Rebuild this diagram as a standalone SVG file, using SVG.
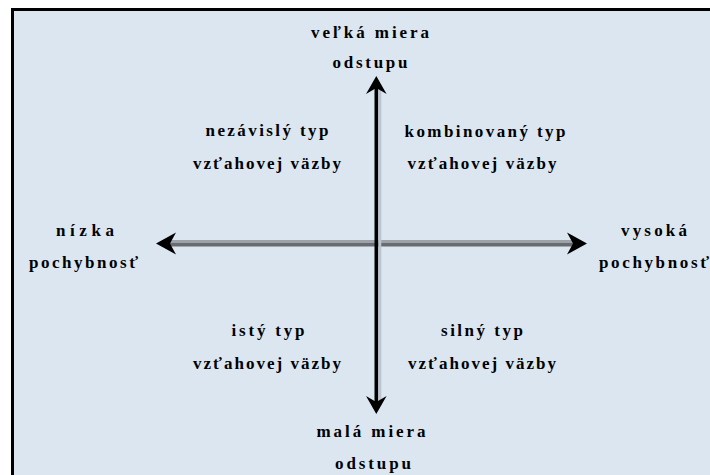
<svg xmlns="http://www.w3.org/2000/svg" width="710" height="475" viewBox="0 0 710 475">
  <defs>
    <style>
      .lbl { font-family: "Liberation Serif", "DejaVu Serif", serif; font-weight: bold; font-size: 17px; fill: #000; text-anchor: middle; }
      .head { fill: #000; }
    </style>
  </defs>
  <rect x="0" y="0" width="710" height="475" fill="#ffffff"/>
  <rect x="12.5" y="9.5" width="720" height="490" fill="#dce6f0" stroke="#000" stroke-width="3"/>

  <g id="connectors">
    <!-- horizontal axis -->
    <line x1="162" y1="241.5" x2="580" y2="241.5" stroke="#9ca2a8" stroke-width="3"/>
    <line x1="162" y1="244.8" x2="580" y2="244.8" stroke="#686b70" stroke-width="3.6"/>
    <path class="head" d="M156,243.5 L176,232.5 L170,243.5 L176,254.5 Z"/>
    <path class="head" d="M587,243.5 L567,232.5 L573,243.5 L567,254.5 Z"/>
    <!-- vertical axis -->
    <line x1="379.8" y1="84" x2="379.8" y2="406" stroke="#bcc4cd" stroke-width="3"/>
    <line x1="376.3" y1="82" x2="376.3" y2="408" stroke="#000" stroke-width="3.6"/>
    <path class="head" d="M376.3,76 L366,94 L376.3,88 L386.6,94 Z"/>
    <path class="head" d="M376.3,414 L366,396 L376.3,402 L386.6,396 Z"/>
  </g>

  <g id="top-label">
    <text class="lbl" x="370" y="38" textLength="118" lengthAdjust="spacing">veľká miera</text>
    <text class="lbl" x="370" y="68" textLength="75" lengthAdjust="spacing">odstupu</text>
  </g>
  <g id="bottom-label">
    <text class="lbl" x="371" y="437" textLength="109" lengthAdjust="spacing">malá miera</text>
    <text class="lbl" x="373" y="469" textLength="76" lengthAdjust="spacing">odstupu</text>
  </g>
  <g id="left-label">
    <text class="lbl" x="85" y="236" textLength="58" lengthAdjust="spacing">nízka</text>
    <text class="lbl" x="83.5" y="268" textLength="109" lengthAdjust="spacing">pochybnosť</text>
  </g>
  <g id="right-label">
    <text class="lbl" x="654" y="236" textLength="66" lengthAdjust="spacing">vysoká</text>
    <text class="lbl" x="654" y="268" textLength="110" lengthAdjust="spacing">pochybnosť</text>
  </g>
  <g id="quadrant-top-left">
    <text class="lbl" x="267" y="136" textLength="123" lengthAdjust="spacing">nezávislý typ</text>
    <text class="lbl" x="267" y="169" textLength="148" lengthAdjust="spacing">vzťahovej väzby</text>
  </g>
  <g id="quadrant-top-right">
    <text class="lbl" x="485" y="137" textLength="161" lengthAdjust="spacing">kombinovaný typ</text>
    <text class="lbl" x="482" y="169" textLength="149" lengthAdjust="spacing">vzťahovej väzby</text>
  </g>
  <g id="quadrant-bottom-left">
    <text class="lbl" x="268" y="336" textLength="73" lengthAdjust="spacing">istý typ</text>
    <text class="lbl" x="267" y="369" textLength="148" lengthAdjust="spacing">vzťahovej väzby</text>
  </g>
  <g id="quadrant-bottom-right">
    <text class="lbl" x="482" y="336" textLength="82" lengthAdjust="spacing">silný typ</text>
    <text class="lbl" x="482" y="369" textLength="148" lengthAdjust="spacing">vzťahovej väzby</text>
  </g>
</svg>
